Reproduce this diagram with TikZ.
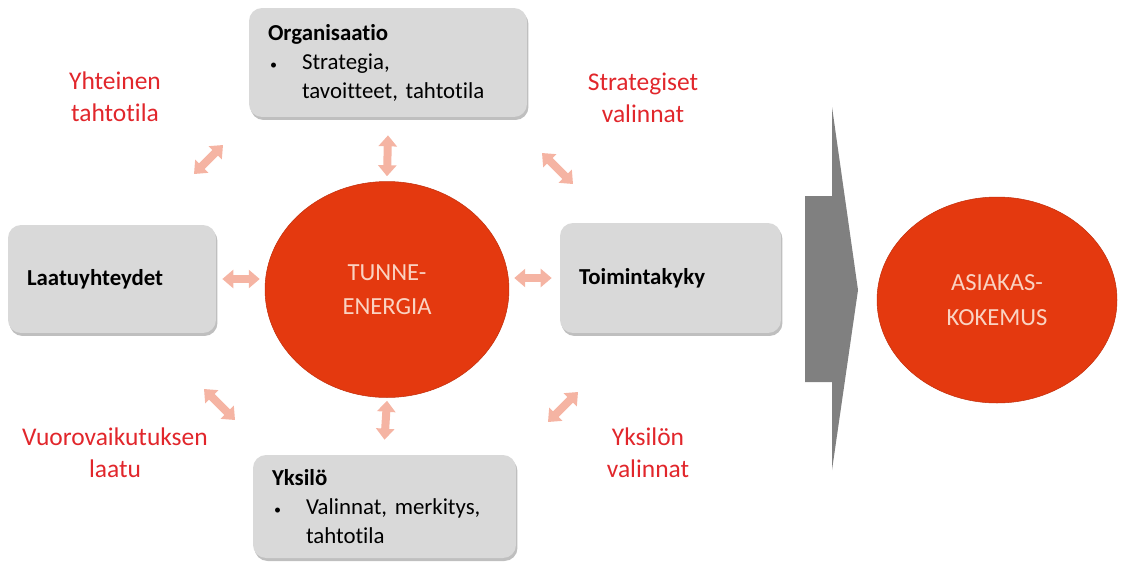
\documentclass[tikz,border=0pt]{standalone}
\usepackage{fontspec}
\setmainfont{Carlito}[Ligatures={NoCommon,NoRequired,NoContextual}]
\usepackage{xcolor}
\usetikzlibrary{shapes.geometric,arrows.meta,positioning,shadows}
\definecolor{hubred}{HTML}{E4390F}
\definecolor{hubtext}{HTML}{FAD3C2}
\definecolor{labelred}{HTML}{E1262B}
\definecolor{boxgray}{HTML}{D9D9D9}
\definecolor{duopink}{HTML}{F5B4A3}
\definecolor{flowgray}{HTML}{808080}
\tikzset{
  areabox/.style={rectangle, rounded corners=0.26cm, fill=boxgray, align=left, inner xsep=0.38cm, inner ysep=0pt,
    font=\fontsize{13}{16.5}\selectfont, drop shadow={shadow xshift=0.03cm, shadow yshift=-0.06cm, opacity=0.25, fill=black}},
  hub/.style={ellipse, fill=hubred, draw=hubred!85!black, line width=0.3pt, inner sep=0pt, align=center,
    text=hubtext, font=\fontsize{14}{19.5}\selectfont},
  redlabel/.style={align=center, text=labelred, font=\fontsize{14.5}{18.2}\selectfont},
  duo/.style={draw=duopink, line width=0.16cm, {Triangle[length=0.22cm,width=0.36cm]}-{Triangle[length=0.22cm,width=0.36cm]}},
  bigflow/.style={fill=flowgray},
}
\newcommand{\bul}{\makebox[0.68cm][l]{\hspace{0.04cm}{\footnotesize\textbullet}}}
\frenchspacing
\begin{document}
\begin{tikzpicture}[x=0.02cm,y=-0.02cm]
  \useasboundingbox (0,0) rectangle (1124,565);
  % boxes round the centre
  \node[areabox, minimum width=5.56cm, minimum height=2.18cm, text width=4.8cm] (org) at (388,62.5)
    {\textbf{Organisaatio}\\\bul Strategia,\\\hspace*{0.68cm}tavoitteet, tahtotila};
  \node[areabox, minimum width=4.16cm, minimum height=2.16cm, text width=3.4cm] (laatu) at (112,279)
    {\textbf{Laatuyhteydet}};
  \node[areabox, minimum width=4.42cm, minimum height=2.2cm, text width=3.66cm] (toim) at (670.5,278)
    {\textbf{Toimintakyky}};
  \node[areabox, minimum width=5.26cm, minimum height=2.06cm, text width=4.5cm] (yks) at (384.5,506.5)
    {\textbf{Yksilö}\\\bul Valinnat, merkitys,\\\hspace*{0.68cm}tahtotila};
  % circles
  \node[hub, minimum width=4.88cm, minimum height=4.32cm] (tunne) at (387,289.5) {TUNNE-\\ENERGIA};
  \node[hub, minimum width=4.8cm, minimum height=4.12cm] (asiakas) at (997,300) {ASIAKAS-\\KOKEMUS};
  % red labels
  \node[redlabel] (yht) at (115,97) {Yhteinen\\tahtotila};
  \node[redlabel] (strat) at (643,98) {Strategiset\\valinnat};
  \node[redlabel] (vuoro) at (115,453) {Vuorovaikutuksen\\laatu};
  \node[redlabel] (ykval) at (648,453) {Yksilön\\valinnat};
  % straight double arrows
  \draw[duo] ([yshift=-0.36cm]org.south) -- ([yshift=0.1cm]tunne.north);
  \draw[duo] ([yshift=-0.06cm]tunne.south) -- ([yshift=0.3cm]yks.north);
  \draw[duo] ([xshift=0.12cm]laatu.east) -- ([xshift=-0.1cm]laatu.east -| tunne.west);
  \draw[duo] ([xshift=0.1cm]toim.west -| tunne.east) -- ([xshift=-0.16cm]toim.west);
  % diagonal double arrows
  \coordinate (ula) at (194,174); \coordinate (ulb) at (223,145);
  \coordinate (ura) at (542,153); \coordinate (urb) at (573,184);
  \coordinate (lla) at (204,389); \coordinate (llb) at (235,420);
  \coordinate (lra) at (578,392); \coordinate (lrb) at (548,422);
  \draw[duo] (ula) -- (ulb); \draw[duo] (ura) -- (urb);
  \draw[duo] (lla) -- (llb); \draw[duo] (lra) -- (lrb);
  % big arrow to the customer
  \fill[bigflow] (805,196) -- (832,196) -- (832,107) -- (858,290) -- (832,470) -- (832,382) -- (805,382) -- cycle;
\end{tikzpicture}
\end{document}
